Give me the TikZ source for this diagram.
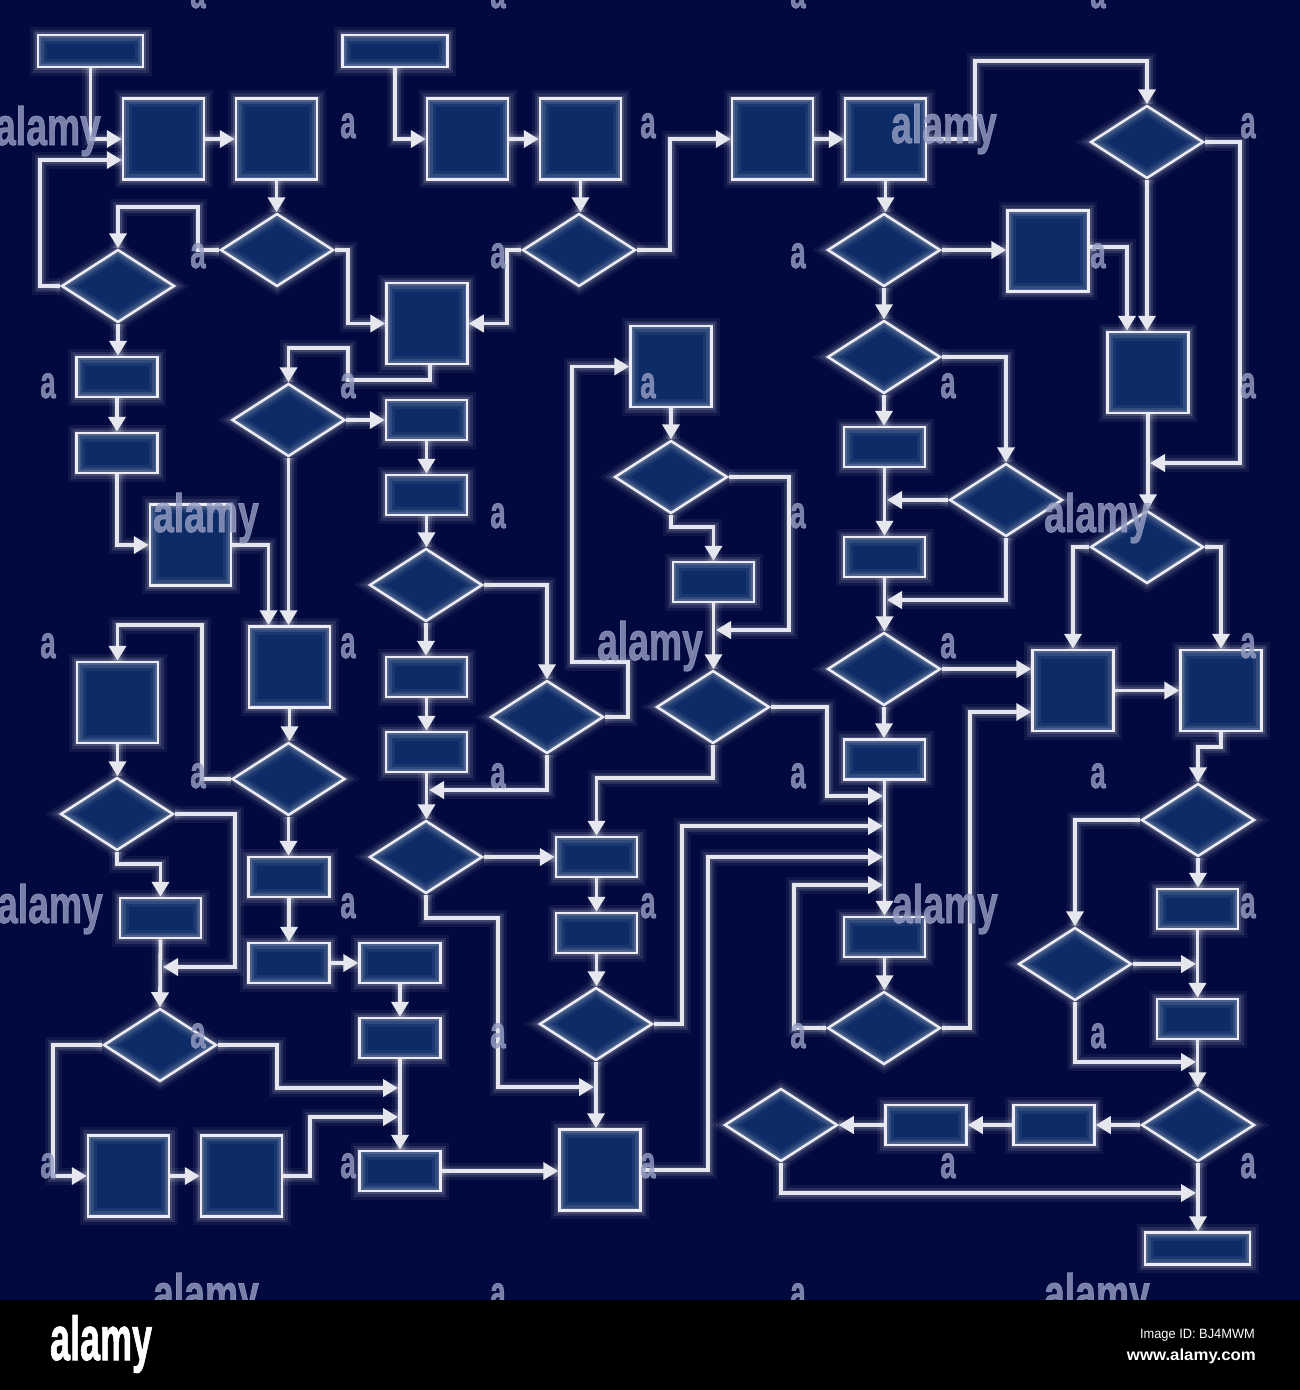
\documentclass[tikz,border=0pt]{standalone}
\usepackage{fontspec}
\setmainfont{Liberation Sans}
\newfontfamily\wmfont{Liberation Sans}[BoldFeatures={FakeBold=1.6}]
\usetikzlibrary{arrows.meta,shapes.geometric}
\definecolor{bg}{RGB}{1,9,62}
\definecolor{boxfill}{RGB}{13,43,102}
\definecolor{linec}{RGB}{230,230,238}
\definecolor{wmc}{RGB}{150,158,196}
\begin{document}
\begin{tikzpicture}[x=1pt,y=-1pt,
  glow/.style={postaction={draw=white,draw opacity=0.06,line width=17pt},
               postaction={draw=white,draw opacity=0.10,line width=11pt},
               postaction={draw=white,draw opacity=0.14,line width=6pt}},
  sq/.style={rectangle,draw=linec,line width=2.5pt,fill=boxfill,minimum width=81pt,minimum height=81pt,inner sep=0pt,glow},
  rb/.style={rectangle,draw=linec,line width=2.5pt,fill=boxfill,minimum width=81pt,minimum height=40pt,inner sep=0pt,glow},
  wide/.style={rectangle,draw=linec,line width=2.5pt,fill=boxfill,minimum width=105pt,minimum height=32pt,inner sep=0pt,glow},
  dia/.style={diamond,draw=linec,line width=2.5pt,fill=boxfill,minimum width=113pt,minimum height=73pt,inner sep=0pt,glow},
  conn/.style={draw=linec,line width=3.8pt,-{Triangle[length=15pt,width=17pt]},
               preaction={draw=white,draw opacity=0.06,line width=17pt,arrows=-},
               preaction={draw=white,draw opacity=0.10,line width=11pt,arrows=-},
               preaction={draw=white,draw opacity=0.12,line width=7pt,arrows=-}},
  wm/.style={text=wmc,text opacity=0.8,font=\wmfont\bfseries\fontsize{46}{46}\selectfont,xscale=0.6,inner sep=0pt,anchor=base},
  wmbig/.style={text=wmc,text opacity=0.8,font=\wmfont\bfseries\fontsize{54}{54}\selectfont,xscale=0.69,inner sep=0pt,anchor=base}
]
\useasboundingbox (0,0) rectangle (1300,1390);
\fill[bg] (0,0) rectangle (1300,1300);

% ---------- nodes ----------
\node[wide] (t1) at (90.5,51) {};
\node[sq] (a) at (163.5,139) {};
\node[sq] (b) at (276.5,139) {};
\node[dia] (d1) at (118,286) {};
\node[dia] (d2) at (277,250) {};
\node[sq] (c) at (427,323.5) {};
\node[rb] (r1) at (117,377) {};
\node[rb] (r2) at (117,453) {};
\node[wide] (t2) at (395,51) {};
\node[sq] (e) at (467.5,139) {};
\node[sq] (f) at (580.5,139) {};
\node[dia] (d4) at (579,250) {};
\node[sq] (g) at (772.5,139) {};
\node[sq] (h) at (885.5,139) {};
\node[dia] (d16) at (1147,142) {};
\node[dia] (d13) at (884,250) {};
\node[sq] (p) at (1048,251) {};
\node[sq] (q) at (1148,372.5) {};
\node[dia] (d14) at (884,357) {};
\node[rb] (s) at (884.5,447) {};
\node[dia] (d15) at (1006,500) {};
\node[rb] (u) at (884.5,557) {};
\node[dia] (d17) at (1147,547) {};
\node[dia] (d12) at (884,669) {};
\node[sq] (m) at (1073,690.5) {};
\node[sq] (v) at (1221,690.5) {};
\node[rb] (n) at (884.5,759.5) {};
\node[rb] (o) at (884.5,937) {};
\node[dia] (d11) at (884,1028) {};
\node[dia] (d18) at (1198,820) {};
\node[rb] (w) at (1197.5,909) {};
\node[dia] (d19) at (1075,964) {};
\node[rb] (xb) at (1197.5,1019) {};
\node[dia] (d20) at (1198,1125) {};
\node[rb] (yb) at (1054,1125) {};
\node[rb] (zb) at (926,1125) {};
\node[dia] (d21) at (781,1125) {};
\node[wide] (fin) at (1197.5,1248.5) {};
\node[dia] (d3) at (288.5,420) {};
\node[rb] (r3) at (426.5,420) {};
\node[rb] (r4) at (426.5,495) {};
\node[dia] (d8) at (426,585) {};
\node[rb] (r5) at (426.5,677) {};
\node[rb] (r6) at (426.5,752) {};
\node[dia] (d9) at (426,857) {};
\node[sq] (i) at (671,366.5) {};
\node[dia] (d5) at (671,477) {};
\node[rb] (j) at (713.5,582) {};
\node[dia] (d6) at (713,707) {};
\node[dia] (d7) at (547,717) {};
\node[rb] (k) at (596.5,857) {};
\node[rb] (k2) at (596.5,933) {};
\node[dia] (d10) at (596,1024) {};
\node[sq] (l) at (600,1170) {};
\node[sq] (aa) at (190.5,545) {};
\node[sq] (bb) at (289.5,667) {};
\node[dia] (d22) at (288.5,779) {};
\node[sq] (cc) at (117.5,702.5) {};
\node[dia] (d23) at (117,814) {};
\node[rb] (dd) at (160.5,918) {};
\node[dia] (d24) at (160,1045) {};
\node[sq] (ee) at (128.5,1176) {};
\node[sq] (ff) at (241.5,1176) {};
\node[rb] (gg) at (289,877) {};
\node[rb] (hh) at (289,963) {};
\node[rb] (ii) at (400,963) {};
\node[rb] (jj) at (400,1038) {};
\node[rb] (kk) at (400,1171) {};

% ---------- connectors ----------
\draw[conn] (t1.south) |- (a.west);
\draw[conn] (a.east) -- (b.west);
\draw[conn] (d1.west) -- (40,286) |- ([yshift=-21pt]a.west);
\draw[conn] (b.south) -- (b.south |- d2.north);
\draw[conn] (d2.west) -- (198,250) -- (198,207) -| (d1.north);
\draw[conn] (d2.east) -- (348,250) |- (c.west);
\draw[conn] (d1.south) -- (d1.south |- r1.north);
\draw[conn] (r1.south) -- (r2.north);
\draw[conn] (r2.south) |- (aa.west);
\draw[conn] (aa.east) -| ([xshift=-21pt]bb.north);
\draw[conn] (d3.south) -- (d3.south |- bb.north);
\draw[conn] ([xshift=3pt]c.south) -- (430,380) -- (348,380) -- (348,348) -| (d3.north);
\draw[conn] (d3.east) -- (r3.west);
\draw[conn] (r3.south) -- (r4.north);
\draw[conn] (r4.south) -- (r4.south |- d8.north);
\draw[conn] (d8.south) -- (d8.south |- r5.north);
\draw[conn] (r5.south) -- (r6.north);
\draw[conn] (r6.south) -- (r6.south |- d9.north);
\draw[conn] (d8.east) -| (d7.north);
\draw[conn] (d7.south) |- (429,790);
\draw[conn] (d9.east) -- (k.west);
\draw[conn] (d9.south) -- (426,918) -- (498,918) |- (594,1087);
\draw[conn] (d7.east) -- (628,717) -- (628,662) -- (572,662) |- (i.west);
\draw[conn] (i.south) -- (d5.north);
\draw[conn] (d5.south) -- (671,527) -| (j.north);
\draw[conn] (d5.east) -- (789,477) |- (716,630);
\draw[conn] (j.south) -- (j.south |- d6.north);
\draw[conn] (d6.south) -- (713,778) -| (k.north);
\draw[conn] (d6.east) -- (827,707) |- (883,796);
\draw[conn] (k.south) -- (k2.north);
\draw[conn] (k2.south) -- (k2.south |- d10.north);
\draw[conn] (d10.south) -- (d10.south |- l.north);
\draw[conn] (d10.east) -- (682,1024) |- (883,826);
\draw[conn] (l.east) -- (708,1170) |- (883,857);
\draw[conn] (d11.west) -- (794,1028) |- (883,885);
\draw[conn] (d11.east) -- (970,1028) |- ([yshift=-21.5pt]m.west);
\draw[conn] (d12.east) -- (d12.east -| m.west);
\draw[conn] (m.east) -- (v.west);
\draw[conn] (d12.south) -- (d12.south |- n.north);
\draw[conn] (n.south) -- (n.south |- o.north);
\draw[conn] (o.south) -- (o.south |- d11.north);
\draw[conn] (u.south) -- (u.south |- d12.north);
\draw[conn] (s.south) -- (u.north);
\draw[conn] (d14.south) -- (d14.south |- s.north);
\draw[conn] (d13.south) -- (d14.north);
\draw[conn] (h.south) -- (h.south |- d13.north);
\draw[conn] (d13.east) -- (d13.east -| p.west);
\draw[conn] ([yshift=4pt]p.east) -| ([xshift=-21pt]q.north);
\draw[conn] (d16.south) -- (d16.south |- q.north);
\draw[conn] (d14.east) -| (d15.north);
\draw[conn] (d15.west) -- (887,500);
\draw[conn] (d15.south) |- (887,600);
\draw[conn] (h.east) -- (975,139) -- (975,61) -| (d16.north);
\draw[conn] (d16.east) -- (1240,142) |- (1150,463);
\draw[conn] (q.south) -- (q.south |- d17.north);
\draw[conn] (d17.west) -| (m.north);
\draw[conn] (d17.east) -| (v.north);
\draw[conn] (v.south) -- (1221,747) -| (d18.north);
\draw[conn] (d18.south) -- (d18.south |- w.north);
\draw[conn] (d18.west) -| (d19.north);
\draw[conn] (w.south) -- (xb.north);
\draw[conn] (d19.east) -- (1196,964);
\draw[conn] (d19.south) |- (1196,1062);
\draw[conn] (xb.south) -- (xb.south |- d20.north);
\draw[conn] (d20.west) -- (yb.east);
\draw[conn] (yb.west) -- (zb.east);
\draw[conn] (zb.west) -- (d21.east);
\draw[conn] (d21.south) |- (1196,1193);
\draw[conn] (d20.south) -- (d20.south |- fin.north);
\draw[conn] (t2.south) |- (e.west);
\draw[conn] (e.east) -- (f.west);
\draw[conn] (f.south) -- (f.south |- d4.north);
\draw[conn] (d4.west) -- (507,250) |- (c.east);
\draw[conn] (d4.east) -- (670,250) |- (g.west);
\draw[conn] (g.east) -- (h.west);
\draw[conn] (bb.south) -- (bb.south |- d22.north);
\draw[conn] (d22.west) -- (202,779) -- (202,625) -| (cc.north);
\draw[conn] (cc.south) -- (cc.south |- d23.north);
\draw[conn] (d23.east) -- (235,814) |- (163,967);
\draw[conn] (d23.south) -- (117,864) -| (dd.north);
\draw[conn] (dd.south) -- (d24.north);
\draw[conn] (d24.west) -- (53,1045) |- (ee.west);
\draw[conn] (ee.east) -- (ff.west);
\draw[conn] (ff.east) -- (310,1176) |- (398,1117);
\draw[conn] (d24.east) -- (277,1045) |- (398,1088);
\draw[conn] (d22.south) -- (d22.south |- gg.north);
\draw[conn] (gg.south) -- (hh.north);
\draw[conn] (hh.east) -- (ii.west);
\draw[conn] (ii.south) -- (jj.north);
\draw[conn] (jj.south) -- (kk.north);
\draw[conn] (kk.east) -- (kk.east -| l.west);

% ---------- watermarks ----------
\foreach \yy in {8,268,788,1048} \foreach \xx in {198,498,798,1098}
  \node[wm] (wa-\xx-\yy) at (\xx,\yy) {a};
\foreach \yy in {528,1308} \foreach \xx in {498,798}
  \node[wm] (wb-\xx-\yy) at (\xx,\yy) {a};
\foreach \yy in {138,918} \foreach \xx in {348,648,1248}
  \node[wm] (wc-\xx-\yy) at (\xx,\yy) {a};
\foreach \yy in {398,1178} \foreach \xx in {48,348,648,948,1248}
  \node[wm] (wd-\xx-\yy) at (\xx,\yy) {a};
\foreach \xx in {48,348,948,1248}
  \node[wm] (we-\xx) at (\xx,658) {a};
\node[wmbig] (al1) at (48,145) {alamy};
\node[wmbig] (al2) at (944,143) {alamy};
\node[wmbig] (al3) at (206,532) {alamy};
\node[wmbig] (al4) at (1097,532) {alamy};
\node[wmbig] (al5) at (650,660) {alamy};
\node[wmbig] (al6) at (50,923) {alamy};
\node[wmbig] (al7) at (945,923) {alamy};
\node[wmbig] (al8) at (206,1312) {alamy};
\node[wmbig] (al9) at (1097,1312) {alamy};

% ---------- bottom band ----------
\fill[black] (0,1300) rectangle (1300,1390);
\node[text=white,font=\wmfont\bfseries\fontsize{62}{62}\selectfont,xscale=0.58,inner sep=0pt,anchor=base west] (logo) at (50,1360) {alamy};
\node[text=white,font=\fontsize{13.5}{13.5}\selectfont,xscale=0.95,inner sep=0pt,anchor=base east] (imgid) at (1255,1338) {Image ID: BJ4MWM};
\node[text=white,font=\bfseries\fontsize{16}{16}\selectfont,xscale=1.05,inner sep=0pt,anchor=base east] (www) at (1256,1360) {www.alamy.com};
\end{tikzpicture}
\end{document}
